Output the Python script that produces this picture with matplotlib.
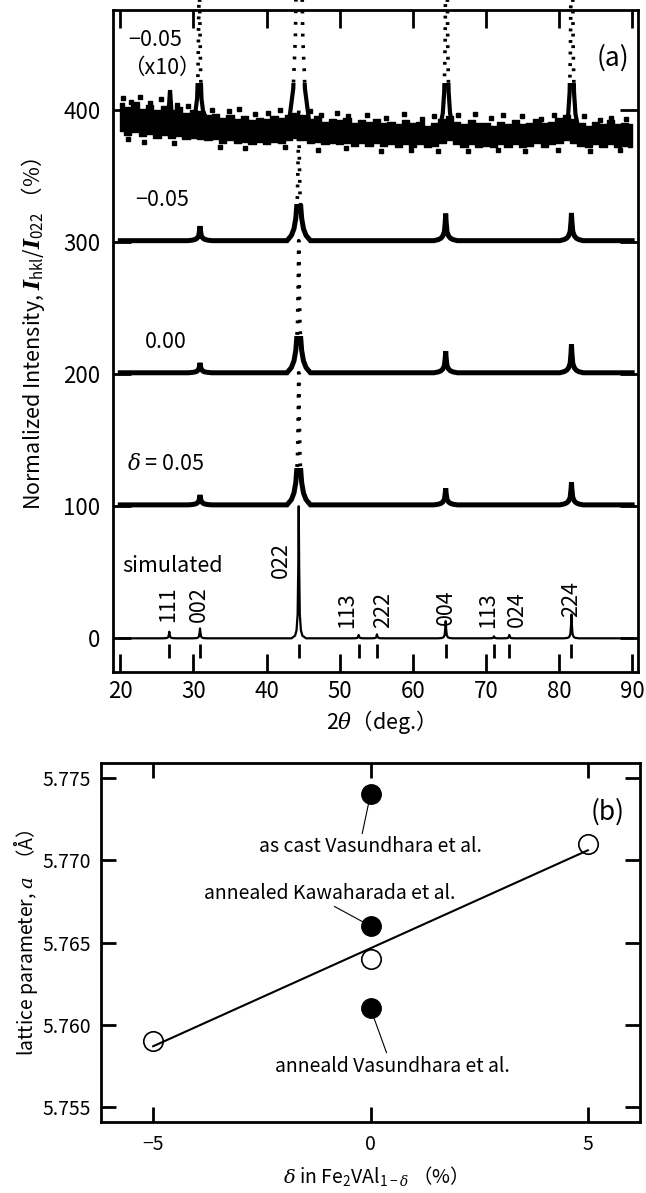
import numpy as np
import matplotlib
matplotlib.use("Agg")
import matplotlib.pyplot as plt
from matplotlib.patches import Rectangle

plt.rcParams['font.family'] = ['Noto Sans CJK JP', 'DejaVu Sans']
plt.rcParams['mathtext.fontset'] = 'custom'
plt.rcParams['mathtext.rm'] = 'Noto Sans CJK JP'
plt.rcParams['mathtext.it'] = 'DejaVu Serif:italic'
plt.rcParams['mathtext.bf'] = 'DejaVu Serif:italic:bold'

# ---------------- panel (a): XRD patterns ----------------
# simulated pattern (Bragg positions, indices, intensity in %)
sim_pos = [26.7, 30.9, 44.4, 52.6, 55.1, 64.5, 71.1, 73.2, 81.7]
sim_hkl = ["111", "002", "022", "113", "222", "004", "113", "024", "224"]
sim_int = [5, 7.5, 100, 2.5, 3, 13, 1.5, 2.5, 18]
hkl_x = [26.5, 30.8, 42.0, 51.0, 55.9, 64.5, 70.3, 74.2, 81.6]
hkl_y = [12.6, 12.6, 45.4, 7.6, 7.6, 10.0, 7.6, 8.8, 16.4]

# measured patterns, offset by 100 each
meas_pos = [30.9, 44.4, 64.5, 81.7]
int_p005 = [7.5, 100, 12.6, 17]      # delta = 0.05
int_000 = [7.5, 100, 16.4, 21.5]     # delta = 0.00
int_m005 = [11, 100, 20.5, 21]       # delta = -0.05
meas_base = [101, 201, 301]
meas_labels = ["$\\delta$ = 0.05", "0.00", "\u22120.05"]
label_x = [20.9, 23.4, 22.0]
label_y = [132, 224, 332]

# delta = -0.05 multiplied by 10 (noisy band + peaks)
x10_pos = [26.8, 30.8, 44.45, 64.6, 81.75]
x10_int = [22, 110, 1000, 205, 210]
x10_base = [393, 392, 386, 383, 382]
band_x = np.arange(20, 91)
band_hi = [405, 402, 406, 401, 404, 400, 403, 400, 402, 398, 400,
           399, 396, 397, 394, 396, 393, 395, 392, 394, 393, 395, 394, 396,
           398, 396, 393, 395, 391, 393, 392, 394, 390, 392, 391, 393, 390,
           391, 389, 392, 390, 391, 388, 390, 393, 395, 391, 389, 392, 390,
           390, 388, 391, 389, 392, 389, 390, 393, 390, 391, 394, 396, 393,
           390, 388, 391, 389, 392, 389, 390, 389]
band_lo = [384, 381, 383, 380, 382, 379, 381, 379, 380, 378, 379,
           378, 377, 378, 375, 377, 375, 376, 374, 376, 374, 376, 375, 377,
           379, 377, 375, 376, 374, 375, 374, 375, 373, 375, 373, 375, 373,
           374, 372, 374, 372, 374, 372, 373, 375, 377, 374, 372, 374, 372,
           373, 372, 374, 372, 374, 372, 373, 375, 372, 374, 375, 377, 375,
           373, 372, 374, 372, 374, 372, 373, 372]
stray_x = [20.3, 21.4, 22.7, 24.1, 25.6, 27.7, 29.2, 32.6, 34.8, 36.3, 38.4, 40.2,
           41.8, 45.9, 47.4, 49.6, 51.2, 53.7, 56.4, 58.8, 61.3, 62.9, 66.2, 68.5,
           70.7, 72.4, 74.9, 77.6, 79.3, 83.4, 85.6, 87.1, 89.2,
           21.0, 23.2, 27.4, 33.6, 37.1, 42.5, 47.1, 50.8, 55.6, 59.7, 63.4,
           67.5, 71.6, 75.3, 79.8, 84.2, 88.4]
stray_y = [409, 406, 410, 405, 408, 404, 403, 400, 399, 401, 397, 398,
           400, 399, 396, 398, 395, 396, 394, 397, 393, 395, 396, 397,
           394, 396, 395, 393, 396, 395, 392, 394, 393,
           378, 376, 375, 372, 371, 372, 370, 371, 369, 370, 369,
           369, 370, 369, 370, 369, 370]

# peak shapes (offset in deg, fraction of peak height)
meas_dx = [-1.6, -1.0, -0.65, -0.4, -0.18, -0.06, 0, 0.06, 0.18, 0.4, 0.65, 1.0, 1.6]
meas_fr = [0, 0.04, 0.09, 0.17, 0.33, 0.7, 1, 0.7, 0.33, 0.17, 0.09, 0.04, 0]
x10_dx = [-1.5, -0.8, -0.5, -0.3, -0.18, -0.08, 0, 0.08, 0.18, 0.3, 0.5, 0.8, 1.5]
x10_fr = [0, 0.03, 0.07, 0.15, 0.32, 0.7, 1, 0.7, 0.32, 0.15, 0.07, 0.03, 0]
sim_dx = [-1.0, -0.5, -0.3, -0.15, -0.06, 0, 0.06, 0.15, 0.3, 0.5, 1.0]
sim_fr = [0, 0.02, 0.06, 0.18, 0.55, 1, 0.55, 0.18, 0.06, 0.02, 0]


def build(pos, heights, base, dx, fr):
    xs, ys = [20.0], [base]
    for c, h in zip(pos, heights):
        xs += [c + d for d in dx]
        ys += [base + h * f for f in fr]
    xs.append(90.0)
    ys.append(base)
    return xs, ys


fig = plt.figure(figsize=(6.46, 11.93), dpi=100)
ax = fig.add_axes([113 / 646, 1 - 672 / 1193, 525 / 646, 662 / 1193])
ax2 = fig.add_axes([101 / 646, 1 - 1122 / 1193, 539 / 646, 359 / 1193])


def draw_trace(x, y, thr, lw):
    solid, = ax.plot(x, y, color='k', lw=lw, solid_joinstyle='miter')
    solid.set_clip_path(Rectangle((15, -40), 80, thr + 40, transform=ax.transData))
    dots, = ax.plot(x, y, color='k', lw=2.6, ls=(0, (0.8, 2.4)))
    dots.set_clip_path(Rectangle((15, thr), 80, 2000, transform=ax.transData))


# simulated
sx, sy = build(sim_pos, sim_int, 0, sim_dx, sim_fr)
ax.plot(sx, sy, color='k', lw=1.6)
ax.vlines(sim_pos, -15, -4, color='k', lw=2)
for hx, hy, lab in zip(hkl_x, hkl_y, sim_hkl):
    ax.text(hx, hy, lab, rotation=90, ha='center', va='bottom', fontsize=15.5)
ax.text(20.3, 54.6, "simulated", ha='left', va='center', fontsize=15.5)

# measured
for ints, base in zip([int_p005, int_000, int_m005], meas_base):
    mx, my = build(meas_pos, ints, base, meas_dx, meas_fr)
    draw_trace(mx, my, base + 28, 3.6)
for lx, ly, lab in zip(label_x, label_y, meas_labels):
    ax.text(lx, ly, lab, ha='left', va='center', fontsize=15.5)

# x10 trace
ax.fill_between(band_x, band_lo, band_hi, step='mid', color='k', lw=1.0, edgecolor='k')
ax.plot(stray_x, stray_y, 's', color='k', ms=3)
for c, h, b in zip(x10_pos, x10_int, x10_base):
    px = [c + d for d in x10_dx]
    py = [b + h * f for f in x10_fr]
    draw_trace(px, py, 420, 3.0)
ax.text(21.1, 453, "\u22120.05", ha='left', va='center', fontsize=15.5)
ax.text(20.4, 432, "\uff08x10\uff09", ha='left', va='center', fontsize=15.5)

ax.text(0.952, 0.927, "(a)", transform=ax.transAxes, ha='center', va='center', fontsize=19)

ax.set_xlim(19.0, 90.8)
ax.set_ylim(-25.5, 475.6)
ax.set_xticks(range(20, 91, 10))
ax.set_yticks([0, 100, 200, 300, 400])
ax.tick_params(direction='in', length=13, width=2, top=True, right=True,
               labelsize=16)
ax.tick_params(axis='x', pad=6)
ax.tick_params(axis='y', pad=9)
for sp in ax.spines.values():
    sp.set_linewidth(2)
ax.set_xlabel("2$\\theta$\uff08deg.\uff09", fontsize=15.5, labelpad=3)
ax.set_ylabel("Normalized Intensity, $\\mathbf{I}_{\\rm hkl}/\\mathbf{I}_{022}$ \uff08%\uff09",
              fontsize=15.5)
ax.yaxis.set_label_coords(-0.125, 0.51)

# ---------------- panel (b): lattice parameter ----------------
delta = [-5, 0, 5]
a_this = [5.759, 5.764, 5.771]
fit_x = [-5, 5]
fit_y = [5.7587, 5.7706]
lit_delta = [0, 0, 0]
lit_a = [5.774, 5.766, 5.761]
lit_names = ["as cast Vasundhara et al.", "annealed Kawaharada et al.",
             "anneald Vasundhara et al."]
lit_tx = [0.0, -0.95, 0.5]
lit_ty = [5.7708, 5.7680, 5.7575]
lit_rel = [(0.46, 1.0), (0.5, 0.0), (0.48, 1.0)]

ax2.plot(fit_x, fit_y, color='k', lw=1.5)
ax2.plot(delta, a_this, 'o', mfc='none', mec='k', mew=1.2, ms=14)
ax2.plot(lit_delta, lit_a, 'o', color='k', ms=14)
for name, la, tx, ty, rel in zip(lit_names, lit_a, lit_tx, lit_ty, lit_rel):
    ax2.annotate(name, xy=(0, la), xytext=(tx, ty), ha='center', va='center',
                 fontsize=14,
                 arrowprops=dict(arrowstyle='-', lw=0.8, color='k', relpos=rel,
                                 shrinkA=0, shrinkB=6))
ax2.text(0.94, 0.864, "(b)", transform=ax2.transAxes, ha='center', va='center', fontsize=19)

ax2.set_xlim(-6.2, 6.2)
ax2.set_ylim(5.7541, 5.7759)
ax2.set_xticks([-5, 0, 5])
ax2.set_yticks([5.755, 5.760, 5.765, 5.770, 5.775])
ax2.set_yticklabels(["5.755", "5.760", "5.765", "5.770", "5.775"])
ax2.set_xticklabels(["\u22125", "0", "5"])
ax2.tick_params(direction='in', length=11, width=2, top=True, right=True, labelsize=14)
ax2.tick_params(axis='x', pad=9)
ax2.tick_params(axis='y', pad=7)
for sp in ax2.spines.values():
    sp.set_linewidth(2)
ax2.set_xlabel("$\\delta$ in Fe$_2$VAl$_{1\u2212\\delta}$ \uff08%\uff09", fontsize=14, labelpad=6)
ax2.set_ylabel("lattice parameter, $a$  \uff08\u00c5\uff09", fontsize=14, labelpad=2)

fig.savefig("out.png", dpi=100)
